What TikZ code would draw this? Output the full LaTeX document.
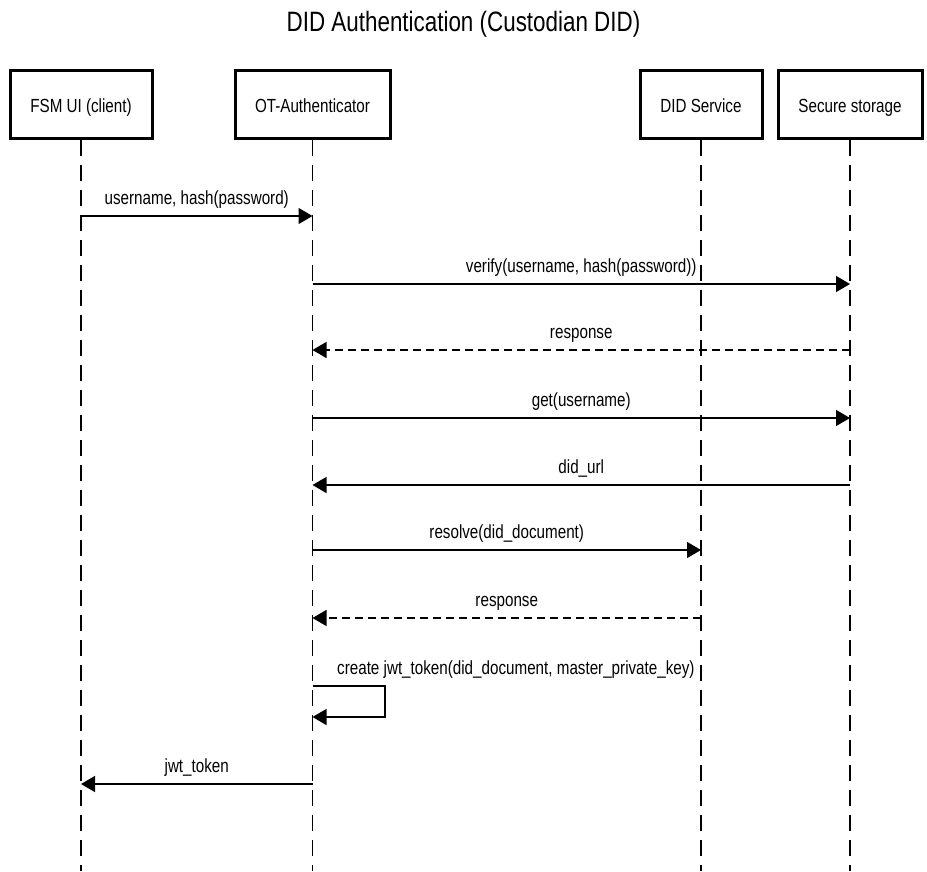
\documentclass[tikz,border=0pt]{standalone}
\usepackage{fontspec}
\setmainfont{Liberation Sans}[FakeStretch=0.8]
\usepackage{tikz}
\usetikzlibrary{arrows.meta, calc}

\begin{document}
\begin{tikzpicture}[
  x=1pt, y=-1pt,
  every node/.style={font=\fontsize{19}{22}\selectfont, inner sep=0pt},
  actor/.style={
    rectangle, draw=black, line width=3pt, fill=white,
    minimum height=68pt, text height=17pt, text depth=0pt,
  },
  life/.style={line width=1.3pt, dash pattern=on 16pt off 9pt},
  msg/.style={-{Triangle[length=14pt,width=16pt]}, line width=1.3pt},
  reply/.style={msg, dash pattern=on 8pt off 5pt},
  lbl/.style={above=7pt},
]
\useasboundingbox (0,0) rectangle (927,871);

\node[font=\fontsize{28}{32}\selectfont] (title) at (463.5,24) {DID Authentication (Custodian DID)};

% participants
\node[actor, minimum width=142pt] (fsm) at (81,104)    {FSM UI (client)};
\node[actor, minimum width=155pt] (ot)  at (312.5,104) {OT-Authenticator};
\node[actor, minimum width=122pt] (did) at (701,104)   {DID Service};
\node[actor, minimum width=144pt] (sec) at (850,104)   {Secure storage};

\coordinate (fsmend) at (81,871);
\coordinate (otend)  at (312.5,871);
\coordinate (didend) at (701,871);
\coordinate (secend) at (850,871);

\draw[life] (fsm.south) -- (fsmend);
\draw[life] (ot.south)  -- (otend);
\draw[life] (did.south) -- (didend);
\draw[life] (sec.south) -- (secend);

% messages
\draw[msg]   (fsm |- 0,216) -- node[lbl] (m1) {username, hash(password)} (ot |- 0,216);
\draw[msg]   (ot |- 0,284)  -- node[lbl] (m2) {verify(username, hash(password))} (sec |- 0,284);
\draw[reply] (sec |- 0,350) -- node[lbl] (m3) {response} (ot |- 0,350);
\draw[msg]   (ot |- 0,418)  -- node[lbl] (m4) {get(username)} (sec |- 0,418);
\draw[msg]   (sec |- 0,485) -- node[lbl] (m5) {did\_url} (ot |- 0,485);
\draw[msg]   (ot |- 0,550)  -- node[lbl] (m6) {resolve(did\_document)} (did |- 0,550);
\draw[reply] (did |- 0,618) -- node[lbl] (m7) {response} (ot |- 0,618);

% self call
\coordinate (loop) at (385,700);
\draw[msg] (ot |- 0,686) -| (loop) |- (ot |- 0,717);
\node[anchor=south west] (m8) at (337,679) {create jwt\_token(did\_document, master\_private\_key)};

\draw[msg]   (ot |- 0,784)  -- node[lbl] (m9) {jwt\_token} (fsm |- 0,784);
\end{tikzpicture}
\end{document}
